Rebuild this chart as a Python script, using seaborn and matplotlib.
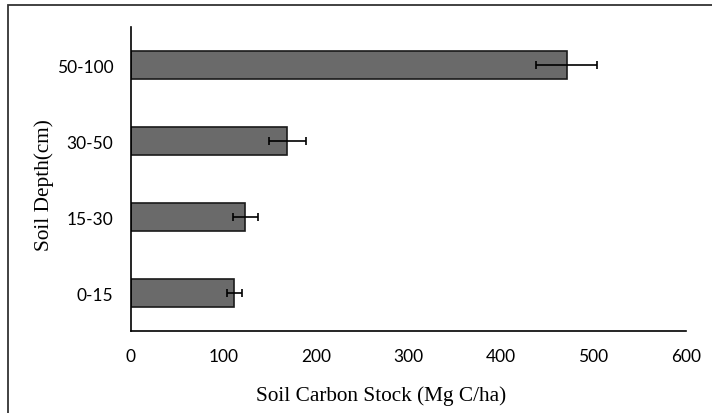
import matplotlib
matplotlib.use("Agg")
import matplotlib.pyplot as plt
import seaborn as sns
import pandas as pd
from matplotlib.patches import Rectangle

depths = ["50-100", "30-50", "15-30", "0-15"]
stock = [471, 169, 124, 112]
errors = [33, 20, 13, 8.5]
xticks = [0, 100, 200, 300, 400, 500, 600]

df = pd.DataFrame({"depth": depths, "stock": stock})

sns.set_theme(style="white")
plt.rcParams["font.family"] = ["Lato", "DejaVu Sans"]

W, H = 712, 414
fig = plt.figure(figsize=(W / 100, H / 100), dpi=100)
ax = fig.add_axes([0.1836, 0.198, 0.9635 - 0.1836, 0.932 - 0.198])

sns.barplot(data=df, x="stock", y="depth", order=depths, orient="h",
            color="#6a6a6a", saturation=1, width=0.36,
            edgecolor="#1a1a1a", linewidth=1.2, errorbar=None, ax=ax)
ax.errorbar(stock, range(len(depths)), xerr=errors, fmt="none",
            ecolor="black", elinewidth=1.2, capsize=3.2, capthick=1.2)

ax.set_xlim(0, 600)
ax.set_ylim(3.5, -0.5)
ax.set_xticks(xticks)
ax.set_xticklabels([str(t) for t in xticks])
ax.tick_params(axis="both", length=0, labelsize=12.5, colors="black")
ax.tick_params(axis="x", pad=12)
ax.tick_params(axis="y", pad=12.5)

for s in ["top", "right"]:
    ax.spines[s].set_visible(False)
for s in ["left", "bottom"]:
    ax.spines[s].set_color("black")
    ax.spines[s].set_linewidth(1.2)

ax.set_xlabel("Soil Carbon Stock (Mg C/ha)", fontfamily="Liberation Serif",
              fontsize=15.3, color="black")
ax.xaxis.set_label_coords(381 / W, 1 - 396 / H, transform=fig.transFigure)
ax.xaxis.label.set_va("center")
ax.set_ylabel("Soil Depth(cm)", fontfamily="Liberation Serif",
              fontsize=15.3, color="black")
ax.yaxis.set_label_coords(44 / W, 1 - 185 / H, transform=fig.transFigure)
ax.yaxis.label.set_va("center")

fig.patches.append(Rectangle((8 / W, -0.1), 1.2, (H - 6) / H + 0.1,
                             transform=fig.transFigure, fill=False,
                             edgecolor="#333333", linewidth=1.3))

fig.savefig("out.png", dpi=100)
